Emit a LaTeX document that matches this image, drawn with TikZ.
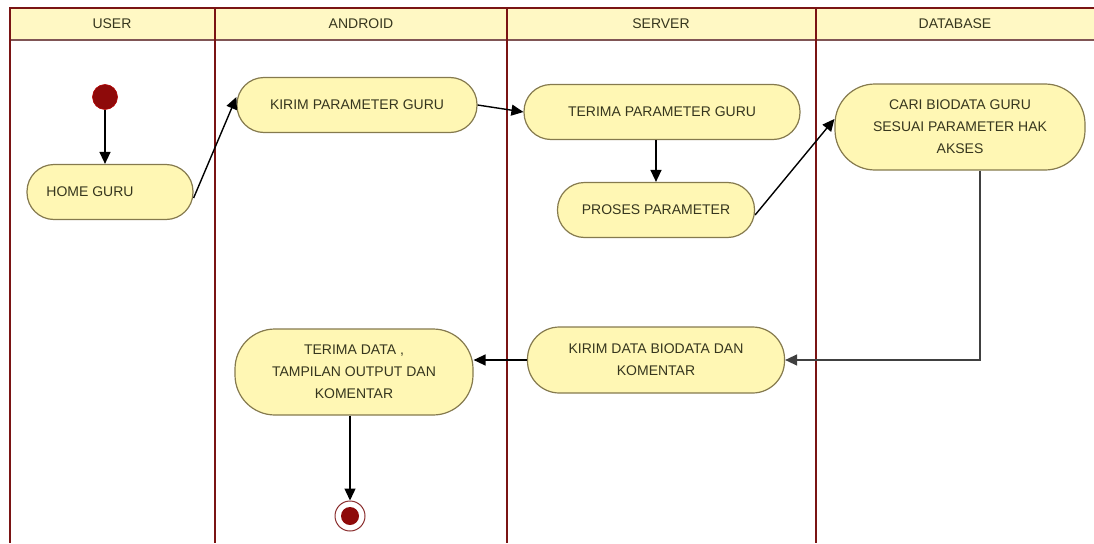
\documentclass[tikz,border=0pt]{standalone}
\usepackage{fontspec}
\setmainfont{Liberation Sans}
\usetikzlibrary{arrows.meta}
\definecolor{lane}{HTML}{7A1414}
\definecolor{headfill}{HTML}{FFF8C4}
\definecolor{actfill}{HTML}{FFF7B4}
\definecolor{actdraw}{HTML}{857A4E}
\definecolor{txt}{HTML}{36361E}
\definecolor{dot}{HTML}{8E0A0A}
\tikzset{
  lanes/.style={draw=lane, line width=2pt},
  activity/.style={draw=actdraw, fill=actfill, line width=1.2pt, rectangle,
    rounded corners=27pt, minimum height=55pt, align=center, text=txt,
    font=\fontsize{14}{22}\selectfont, inner sep=2pt},
  flow/.style={draw=black, line width=1.4pt, -{Triangle[length=12pt,width=11pt]}},
  headtxt/.style={text=txt, font=\fontsize{14}{16}\selectfont},
}
\begin{document}
\begin{tikzpicture}[x=1pt,y=-1pt]
\useasboundingbox (0,0) rectangle (1094,543);
% swimlane header band
\fill[headfill] (10,8) rectangle (1094,40);
\draw[draw=lane!60!black!70, line width=1.6pt] (10,40) -- (1094,40);
\draw[lanes] (1094,8) -- (10,8) -- (10,543);
\draw[lanes] (215,8) -- (215,543);
\draw[lanes] (507,8) -- (507,543);
\draw[lanes] (816,8) -- (816,543);
\node[headtxt] (hUser) at (112,24) {USER};
\node[headtxt] (hAndroid) at (361,24) {ANDROID};
\node[headtxt] (hServer) at (661,24) {SERVER};
\node[headtxt] (hDb) at (955,24) {DATABASE};

% initial and final states
\node[circle, fill=dot, draw=red!70!black, line width=0.6pt, minimum size=25pt, inner sep=0pt] (start) at (105,97) {};
\node[circle, fill=white, draw=dot!70!gray, line width=1pt, minimum size=30pt, inner sep=0pt] (finish) at (350,516) {};
\node[circle, fill=dot, minimum size=18pt, inner sep=0pt] (finishdot) at (350,516) {};

% activities
\node[activity, minimum width=166pt] (home) at (110,192) {HOME GURU\hspace*{40pt}};
\node[activity, minimum width=240pt] (kirim) at (357,105) {KIRIM PARAMETER GURU};
\node[activity, minimum width=276pt] (terima) at (662,112) {TERIMA PARAMETER GURU};
\node[activity, minimum width=197pt] (proses) at (656,210) {PROSES PARAMETER};
\node[activity, minimum width=250pt, minimum height=86pt, rounded corners=40pt] (cari) at (960,127)
  {CARI BIODATA GURU\\SESUAI PARAMETER HAK\\AKSES};
\node[activity, minimum width=257pt, minimum height=66pt, rounded corners=32pt] (kdata) at (656,360)
  {KIRIM DATA BIODATA DAN\\KOMENTAR};
\node[activity, minimum width=238pt, minimum height=86pt, rounded corners=40pt] (tdata) at (354,372)
  {TERIMA DATA ,\\TAMPILAN OUTPUT DAN\\KOMENTAR};
\coordinate (bend) at (980,360);

% control flow
\draw[flow] (start) -- (start |- home.north);
\draw[flow] ([yshift=-6pt]home.east) -- ([yshift=8pt]kirim.west);
\draw[flow] (kirim.east) -- (terima.west);
\draw[flow] (terima.south -| proses) -- (proses.north);
\draw[flow] ([yshift=-5pt]proses.east) -- ([yshift=8pt]cari.west);
\draw[flow, draw=black!75] (cari.south -| bend) -- (bend) -- (kdata.east);
\draw[flow] (kdata.west) -- (tdata.east |- kdata.west);
\draw[flow] (tdata.south -| finish) -- (finish.north);
\end{tikzpicture}
\end{document}
